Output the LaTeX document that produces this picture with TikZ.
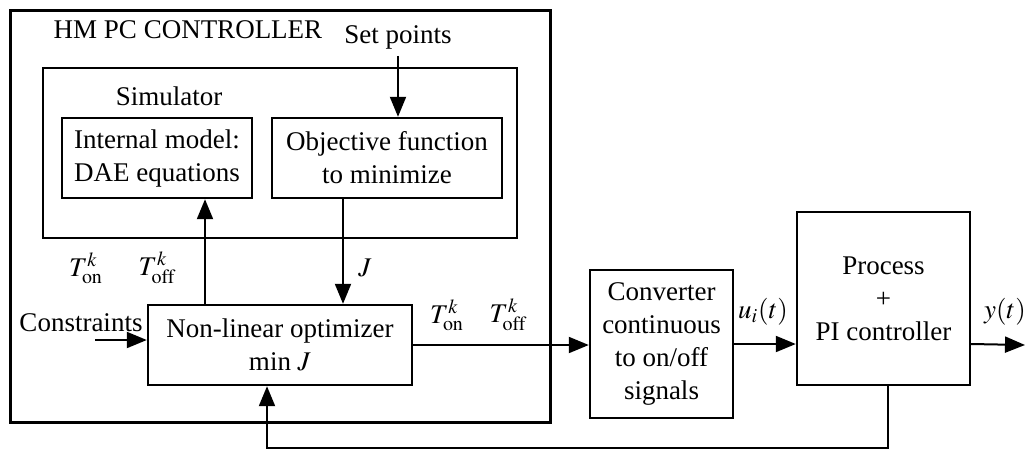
\documentclass[tikz,border=0pt]{standalone}
\usepackage{mathptmx}
\usepackage{fontspec}
\setmainfont{Liberation Serif}
\usepackage{tikz}
\usetikzlibrary{arrows.meta, positioning}

\begin{document}
\begin{tikzpicture}[
    x=0.5pt, y=-0.5pt,
    font=\fontsize{13.5}{16.5}\selectfont,
    block/.style={draw, rectangle, line width=1.2pt, align=center, inner sep=0pt},
    frame/.style={draw, rectangle, line width=1.5pt, inner sep=0pt},
    arrow/.style={-{Triangle[length=10pt, width=8pt]}, line width=1pt},
    sig/.style={inner sep=1pt}
]
\useasboundingbox (0,0) rectangle (1030,452);

% Controlador y simulador
\node (ctrl) [frame, minimum width=270pt, minimum height=206pt] at (280,216) {};
\node (title) at (188,30) {HM PC CONTROLLER};
\node (sim) [frame, line width=1.2pt, minimum width=237pt, minimum height=85pt] at (280,153) {};
\node (simlabel) at (169,96) {Simulator};

% Bloques internos
\node (model) [block, minimum width=95pt, minimum height=40pt] at (157,158) {Internal model:\\DAE equations};
\node (obj) [block, minimum width=115pt, minimum height=40pt] at (387,158) {Objective function\\to minimize};
\node (setp) at (398,37) {Set points};
\node (opt) [block, minimum width=132pt, minimum height=40pt] at (280,345) {Non-linear optimizer\\min $J$};

% Proceso
\node (conv) [block, minimum width=71.5pt, minimum height=74pt] at (661.5,344) {Converter\\continuous\\to on/off\\signals};
\node (proc) [block, minimum width=86.5pt, minimum height=86.5pt] at (883.5,298.5) {Process\\+\\PI controller};

% Entradas y salidas libres
\coordinate (cin) at (95,340);
\coordinate (yout) at (1025,345);
\coordinate (fb) at (0,448);

% Conexiones
\draw [arrow] (setp.south) -- (setp.south |- obj.north);
\draw [arrow] ([xshift=24pt]model.south |- opt.north) -- ([xshift=24pt]model.south);
\draw [arrow] ([xshift=-22pt]obj.south) -- ([xshift=-22pt]obj.south |- opt.north);
\draw [arrow] (cin) -- (cin -| opt.west);
\draw [arrow] (opt.east) -- (opt.east -| conv.west);
\draw [arrow] (conv.east) -- (conv.east -| proc.west);
\draw [arrow] (conv.east -| proc.east) -- (yout);
\draw [arrow] ([xshift=2pt]proc.south) |- ([xshift=-6.5pt]opt.south |- fb) -- ([xshift=-6.5pt]opt.south);

% Etiquetas
\node (tonl) [sig] at (86,268) {$T^k_{\mathrm{on}}$};
\node (toffl) [sig] at (157,268) {$T^k_{\mathrm{off}}$};
\node [sig] at (365,268) {$J$};
\node (tonr) [sig] at (447,315) {$T^k_{\mathrm{on}}$};
\node (toffr) [sig] at (508,315) {$T^k_{\mathrm{off}}$};
\node [sig] at (81,323) {Constraints};
\node [sig] at (763,312) {$u_i(t)$};
\node [sig] at (1005,312) {$y(t)$};

\end{tikzpicture}
\end{document}
